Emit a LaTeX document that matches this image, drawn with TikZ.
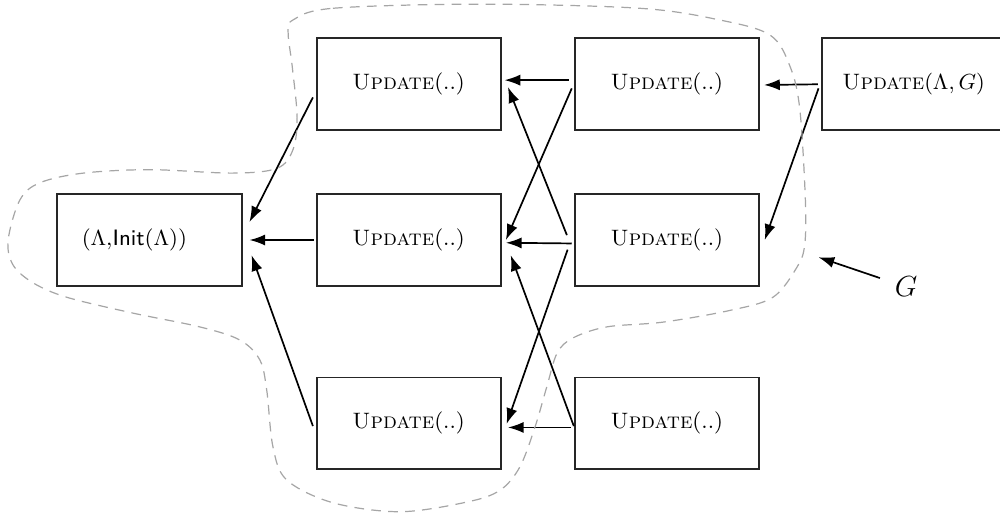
\documentclass[tikz,border=0pt]{standalone}
\usepackage{amsmath}
\usetikzlibrary{arrows.meta,calc,positioning}

\begin{document}
\begin{tikzpicture}[
  >={Latex[length=6.5pt,width=4.6pt]},
  font=\fontsize{9.2}{11}\selectfont,
  block/.style={draw=black!85,rectangle,line width=0.8pt,minimum width=2.67cm,
                minimum height=1.33cm,align=center,inner sep=0pt},
  link/.style ={->,line width=0.7pt},
  region/.style={draw=black!35,line width=0.5pt,dash pattern=on 4pt off 3pt},
]
\useasboundingbox (-2.168,-3.973) rectangle (12.332,3.48);

%% ============================================================
%% Columns: init, then three columns of update calls
%% ============================================================

% --- Initial node ---
\node[block] (init) at (0,0) {($\Lambda$,\textsf{Init}($\Lambda$))\hspace{0.44cm}};

% --- Second column ---
\node[block,right=1.06cm of init] (u2m) {\textsc{Update}(..)};
\node[block,above=0.90cm of u2m]  (u2t) {\textsc{Update}(..)};
\node[block,below=1.30cm of u2m]  (u2b) {\textsc{Update}(..)};

% --- Third column ---
\node[block,right=1.045cm of u2t] (u3t) {\textsc{Update}(..)};
\node[block,right=1.045cm of u2m] (u3m) {\textsc{Update}(..)};
\node[block,right=1.045cm of u2b] (u3b) {\textsc{Update}(..)};

% --- Top-level call ---
\node[block,right=0.88cm of u3t] (u4) {\textsc{Update}$(\Lambda,G)$};

% --- Calls into the initial node ---
\draw[link] ($(u2t.west)+(-0.04,-0.19)$) -- ($(init.east)+(0.10,0.26)$);
\draw[link] ($(u2m.west)+(-0.03,0)$)     -- ($(init.east)+(0.10,0)$);
\draw[link] ($(u2b.west)+(-0.04,-0.04)$) -- ($(init.east)+(0.13,-0.22)$);

% --- Third column into second column ---
\draw[link] ($(u3t.west)+(-0.07,0.06)$)  -- ($(u2t.east)+(0.04,0.06)$);
\draw[link] ($(u3t.west)+(-0.03,-0.06)$) -- ($(u2m.east)+(0.06,0)$);
\draw[link] ($(u3m.west)+(-0.10,0.07)$)  -- ($(u2t.east)+(0.09,-0.04)$);
\draw[link] ($(u3m.west)+(-0.03,-0.05)$) -- ($(u2m.east)+(0.06,-0.04)$);
\draw[link] ($(u3m.west)+(-0.09,-0.14)$) -- ($(u2b.east)+(0.07,-0.01)$);
\draw[link] ($(u3b.west)+(0,-0.04)$)     -- ($(u2m.east)+(0.13,-0.22)$);
\draw[link] ($(u3b.west)+(-0.04,-0.06)$) -- ($(u2b.east)+(0.09,-0.06)$);

% --- Top-level call into third column ---
\draw[link] ($(u4.west)+(-0.04,0)$)      -- ($(u3t.east)+(0.06,-0.01)$);
\draw[link] ($(u4.west)+(-0.03,-0.06)$)  -- ($(u3m.east)+(0.07,0)$);

% --- Outline of the graph G ---
\draw[region] plot[smooth cycle,tension=0.55] coordinates {
  (2.08,3.19) (2.66,3.36) (4.79,3.42) (7.11,3.36) (8.27,3.19) (9.00,2.97)
  (9.29,2.51) (9.43,1.89) (9.51,0.58) (9.50,-0.07) (9.39,-0.39) (9.04,-0.83)
  (8.42,-1.02) (7.45,-1.19) (6.63,-1.26) (6.14,-1.42) (5.91,-1.64) (5.76,-2.13)
  (5.59,-2.71) (5.37,-3.29) (5.08,-3.63) (4.60,-3.80) (3.63,-3.94) (2.66,-3.81)
  (1.99,-3.48) (1.79,-3.00) (1.70,-2.18) (1.60,-1.74) (1.31,-1.45) (0.73,-1.26)
  (-0.24,-1.06) (-1.20,-0.83) (-1.69,-0.62) (-1.98,-0.36) (-2.05,0) (-1.88,0.58)
  (-1.59,0.83) (-0.96,0.97) (0.01,1.02) (1.21,0.97) (1.85,1.04) (2.08,1.31)
  (2.14,1.78) (2.07,2.51) (2.01,3.00)};

% --- Label G ---
\node[font=\fontsize{13}{15}\selectfont] (glabel) at (10.97,-0.68) {$G$};
\coordinate (gtip) at (9.70,-0.25);
\draw[link,shorten <=0.4cm] (glabel.center) -- (gtip);

\end{tikzpicture}
\end{document}
